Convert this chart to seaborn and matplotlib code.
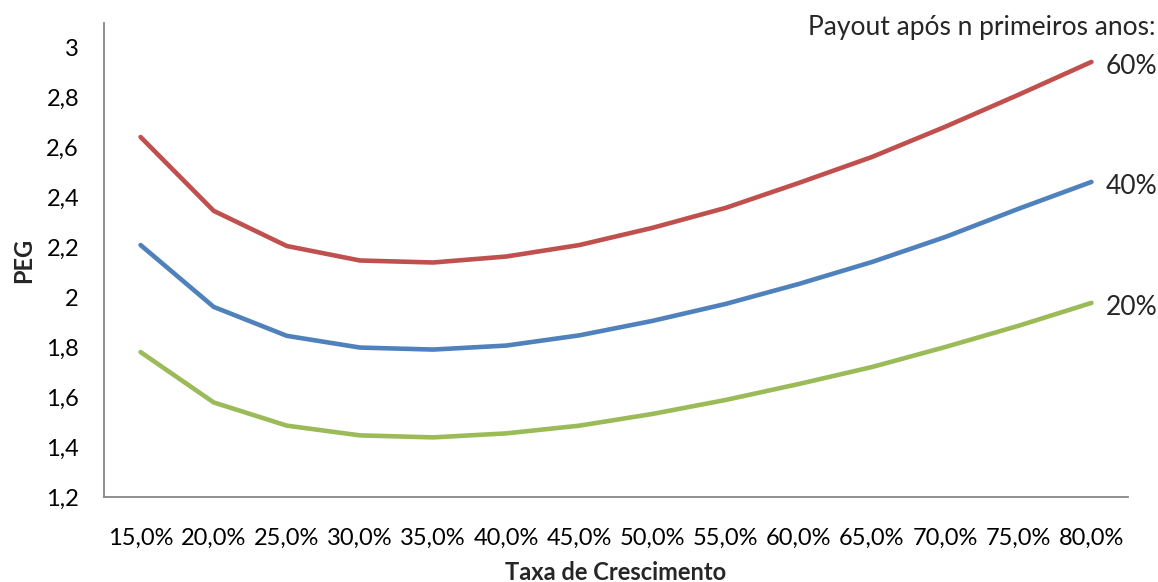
import matplotlib
matplotlib.use("Agg")
import matplotlib.pyplot as plt
import seaborn as sns
import pandas as pd
from matplotlib.ticker import FixedLocator, FuncFormatter

categories = ["15,0%", "20,0%", "25,0%", "30,0%", "35,0%", "40,0%", "45,0%",
              "50,0%", "55,0%", "60,0%", "65,0%", "70,0%", "75,0%", "80,0%"]
payout_60 = [2.643, 2.347, 2.206, 2.148, 2.140, 2.164, 2.210, 2.279, 2.359, 2.459, 2.563, 2.684, 2.812, 2.944]
payout_40 = [2.210, 1.962, 1.846, 1.799, 1.791, 1.807, 1.848, 1.906, 1.974, 2.054, 2.142, 2.242, 2.355, 2.463]
payout_20 = [1.781, 1.579, 1.486, 1.447, 1.439, 1.455, 1.486, 1.533, 1.589, 1.653, 1.721, 1.801, 1.886, 1.978]
series_names = ["60%", "40%", "20%"]
colors = {"60%": "#C0504D", "40%": "#4F81BD", "20%": "#9BBB59"}

rows = []
for name, vals in zip(series_names, [payout_60, payout_40, payout_20]):
    for c, v in zip(categories, vals):
        rows.append({"Taxa": c, "PEG": v, "Payout": name})
df = pd.DataFrame(rows)

sns.set_style("white")
plt.rcParams["font.family"] = ["Lato", "DejaVu Sans"]

fig = plt.figure(figsize=(11.58, 5.82), dpi=100)
ax = fig.add_axes([104/1158, 1-497/582, (1128-104)/1158, (497-23)/582])

sns.lineplot(data=df, x="Taxa", y="PEG", hue="Payout", palette=colors,
             linewidth=3.3, sort=False, legend=False, ax=ax)

ax.set_xlim(-0.5, len(categories) - 0.5)
ax.set_ylim(1.2, 3.1)
yt = [1.2, 1.4, 1.6, 1.8, 2.0, 2.2, 2.4, 2.6, 2.8, 3.0]
ax.set_yticks(yt)
ax.yaxis.set_major_formatter(FuncFormatter(lambda v, p: ("%g" % round(v, 1)).replace(".", ",")))
ax.set_xticks(range(len(categories)))
ax.set_xticklabels(categories)
ax.xaxis.set_minor_locator(FixedLocator([i - 0.5 for i in range(len(categories) + 1)]))
ax.tick_params(axis="x", which="major", length=0, pad=22, labelsize=17, colors="black")
ax.tick_params(axis="x", which="minor", length=8, width=1.3, color="#868686", direction="out")
ax.tick_params(axis="y", which="major", length=8, width=1.3, color="#868686", direction="out",
               labelsize=17, pad=10, labelcolor="black")

for s in ["top", "right"]:
    ax.spines[s].set_visible(False)
for s in ["left", "bottom"]:
    ax.spines[s].set_color("#868686")
    ax.spines[s].set_linewidth(1.3)

ax.set_xlabel("Taxa de Crescimento", fontsize=17, fontweight="bold", labelpad=9)
ax.set_ylabel("PEG", fontsize=17, fontweight="bold", labelpad=8)

last = len(categories) - 1
for name, vals in zip(series_names, [payout_60, payout_40, payout_20]):
    ax.annotate(name, xy=(last, vals[-1]), xytext=(10, -3), textcoords="offset points",
                ha="left", va="center", fontsize=19, annotation_clip=False)

fig.text(1155/1158, 1-27/582, "Payout após n primeiros anos:", ha="right", va="center", fontsize=19)

fig.savefig("out.png", dpi=100)
